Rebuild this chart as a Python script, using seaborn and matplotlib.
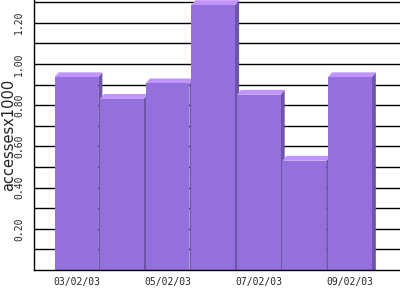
import matplotlib
matplotlib.use("Agg")
import matplotlib.pyplot as plt
from matplotlib import font_manager
from matplotlib.patches import Polygon
import seaborn as sns

dates = ["03/02/03", "04/02/03", "05/02/03", "06/02/03", "07/02/03", "08/02/03", "09/02/03"]
accesses = [0.935, 0.83, 0.905, 1.285, 0.85, 0.53, 0.935]
tick_dates = ["03/02/03", "05/02/03", "07/02/03", "09/02/03"]
ytick_vals = [0.2, 0.4, 0.6, 0.8, 1.0, 1.2]
ytick_labels = ["0.20", "0.40", "0.60", "0.80", "1.00", "1.20"]
grid_minor = [0.1, 0.3, 0.5, 0.7, 0.9, 1.1, 1.3]

front = "#9370db"
topc = "#bf94ff"
side = "#6f55a8"

sns.set_style("white")

fig = plt.figure(figsize=(4, 3), dpi=100)
ax = fig.add_axes([34 / 400, 30 / 300, 366 / 400, 270 / 300])

sns.barplot(x=dates, y=accesses, color=front, saturation=1, width=0.96,
            ax=ax, zorder=3, edgecolor="none", linewidth=0)

dx = 0.09
dy = 0.024
for p in list(ax.patches):
    x0 = p.get_x()
    w = p.get_width()
    h = p.get_height()
    x1 = x0 + w
    ax.add_patch(Polygon([(x0, h), (x1, h), (x1 + dx, h + dy), (x0 + dx, h + dy)],
                         closed=True, facecolor=topc, edgecolor="none", zorder=2.6))
    ax.add_patch(Polygon([(x1, 0), (x1 + dx, 0), (x1 + dx, h + dy), (x1, h)],
                         closed=True, facecolor=side, edgecolor="none", zorder=2.5))

ax.set_xlim(-0.93, 7.1)
ax.set_ylim(0, 1.31)

ax.set_yticks(ytick_vals)
ax.set_yticklabels(ytick_labels, rotation=90, va="center",
                   family="DejaVu Sans Mono", fontsize=7)
ax.set_yticks(grid_minor, minor=True)
ax.set_xticks([dates.index(d) for d in tick_dates])
ax.set_xticklabels(tick_dates, family="DejaVu Sans Mono", fontsize=7)
ax.tick_params(axis="both", which="both", length=0)
ax.tick_params(axis="y", pad=7)
ax.tick_params(axis="x", pad=5)

ax.grid(True, axis="y", which="both", color="black", linewidth=1)
ax.set_axisbelow(True)
for s in ["top", "right"]:
    ax.spines[s].set_visible(False)
for s in ["left", "bottom"]:
    ax.spines[s].set_color("black")
    ax.spines[s].set_linewidth(1)
    ax.spines[s].set_zorder(4)

ax.set_ylabel("accessesx1000", family="DejaVu Sans", fontsize=10.5, color="#222222")
ax.yaxis.set_label_coords(-0.05, 0.5)
ax.set_xlabel("")

fig.savefig("out.png", dpi=100)
